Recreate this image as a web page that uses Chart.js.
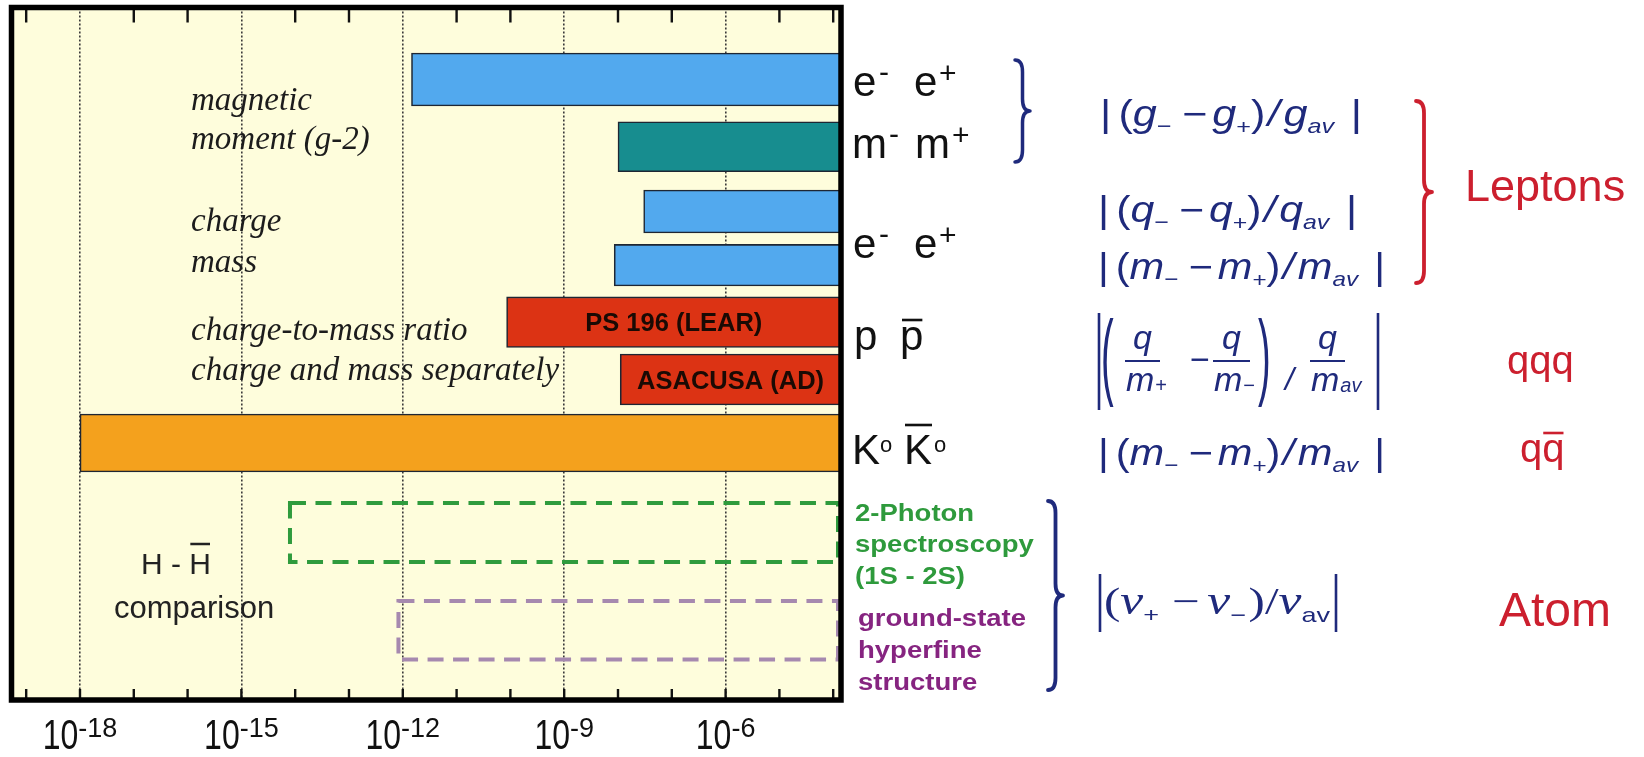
<!DOCTYPE html>
<html>
<head>
<meta charset="utf-8">
<title>CPT tests: relative precision of particle / antiparticle comparisons</title>
<script src="https://cdn.jsdelivr.net/npm/chart.js@4/dist/chart.umd.min.js"></script>
<style>
  html, body { margin: 0; padding: 0; background: #ffffff; }
  canvas { display: block; }
</style>
</head>
<body>
<canvas id="cpt" width="1644" height="757"></canvas>
<script>
// ---- data -------------------------------------------------------------
// one row per measurement, top to bottom
const measurements = [
  'e- e+ magnetic moment (g-2)',
  'mu- mu+ magnetic moment (g-2)',
  'e- e+ charge',
  'e- e+ mass',
  'p pbar charge-to-mass ratio',
  'p pbar charge and mass separately',
  'K0 K0bar mass',
  'H Hbar 2-photon spectroscopy (1S-2S)',
  'H Hbar ground-state hyperfine structure'
];
// best relative precision reached (left end of each bar)
const precision = [1.45e-12, 1.0e-8, 3.0e-8, 8.5e-9, 8.5e-11, 1.1e-8, 1.0e-18, 8.0e-15, 8.3e-13];
// bars are open towards poorer precision and run off the right edge
const openEnd = 1e-3;
// texts printed inside bars
const experiments = ['', '', '', '', 'PS 196 (LEAR)', 'ASACUSA (AD)', '', '', ''];
// decades carrying a labelled, dotted grid line
const labelledExponents = [-18, -15, -12, -9, -6];
// every decade gets a small inner tick
const decadeExponents = [-19, -18, -17, -16, -15, -14, -13, -12, -11, -10, -9, -8, -7, -6, -5, -4];

// ---- layout & style ---------------------------------------------------
const AXIS_MIN = Math.pow(10, -19.273);
const AXIS_MAX = Math.pow(10, -3.855);
// vertical placement of each row (percent of plot height, from the top)
const ROW_CENTER = [10.40, 20.11, 29.46, 37.21, 45.44, 53.72, 62.89, 75.81, 89.92];
const ROW_THICKNESS = [53, 50, 43, 41.5, 50.5, 51, 58, 59, 58.5];
const BLUE = '#52A9EE', TEAL = '#178D8F', RED = '#DC3314', ORANGE = '#F4A11D';
const FILL = [BLUE, TEAL, BLUE, BLUE, RED, RED, ORANGE, null, null];
const DASHED = [null, null, null, null, null, null, null, '#2F9B3D', '#A689AF'];
const PLOT_BG = '#FEFDDC';
const NAVY = '#1F2A7C';
const CRIMSON = '#CC1F2E';
const INK = '#222222';
const SANS = '"Liberation Sans", Arial, sans-serif';
const SERIF = '"Liberation Serif", "Times New Roman", serif';

const datasets = measurements.map((name, i) => ({
  label: name,
  data: [{ x: [precision[i], openEnd], y: ROW_CENTER[i] }],
  barThickness: ROW_THICKNESS[i],
  backgroundColor: FILL[i] || 'rgba(0,0,0,0)',
  borderColor: FILL[i] ? '#1E2633' : 'rgba(0,0,0,0)',
  borderWidth: FILL[i] ? 1.6 : 0,
  borderSkipped: false,
  dashColor: DASHED[i],
  experiment: experiments[i]
}));

// ---- text helpers -----------------------------------------------------
// draw a run of text pieces; returns the canvas x-extent of each piece
function textRun(ctx, x, y, parts, opt) {
  opt = opt || {};
  ctx.save();
  let w = 0;
  for (const p of parts) { ctx.font = p.f; w += (p.gap || 0) + ctx.measureText(p.t).width; }
  let sx = opt.sx || 1;
  const sy = opt.sy || 1;
  if (opt.width) sx = opt.width / w;
  const x0 = opt.align === 'center' ? x - w * sx / 2 : x;
  ctx.translate(x0, y);
  ctx.scale(sx, sy);
  ctx.textBaseline = 'alphabetic';
  let cx = 0;
  const ext = [];
  for (const p of parts) {
    ctx.font = p.f;
    ctx.fillStyle = p.c || opt.color || INK;
    cx += p.gap || 0;
    ctx.fillText(p.t, cx, p.dy || 0);
    const pw = ctx.measureText(p.t).width;
    ext.push([x0 + cx * sx, x0 + (cx + pw) * sx]);
    cx += pw;
  }
  ctx.restore();
  return ext;
}

function hline(ctx, x1, x2, y, color, lw) {
  ctx.save();
  ctx.strokeStyle = color; ctx.lineWidth = lw;
  ctx.beginPath(); ctx.moveTo(x1, y); ctx.lineTo(x2, y); ctx.stroke();
  ctx.restore();
}
function vline(ctx, x, y1, y2, color, lw) {
  ctx.save();
  ctx.strokeStyle = color; ctx.lineWidth = lw;
  ctx.beginPath(); ctx.moveTo(x, y1); ctx.lineTo(x, y2); ctx.stroke();
  ctx.restore();
}

// right-hand curly brace "}" between yTop and yBot, tip pointing right
function brace(ctx, x, yTop, yBot, w, color, lw) {
  const ym = (yTop + yBot) / 2;
  const xm = x + w * 0.5;
  const r = Math.min(12, (yBot - yTop) / 8);
  ctx.save();
  ctx.strokeStyle = color; ctx.lineWidth = lw; ctx.lineCap = 'round'; ctx.lineJoin = 'round';
  ctx.beginPath();
  ctx.moveTo(x, yTop);
  ctx.quadraticCurveTo(xm, yTop, xm, yTop + r);
  ctx.lineTo(xm, ym - r);
  ctx.quadraticCurveTo(xm, ym, x + w, ym);
  ctx.quadraticCurveTo(xm, ym, xm, ym + r);
  ctx.lineTo(xm, yBot - r);
  ctx.quadraticCurveTo(xm, yBot, x, yBot);
  ctx.stroke();
  ctx.restore();
}

// |(a_- - a_+)/a_av| style ratio
function diffRatio(ctx, x, y, letter, width) {
  const up = '36px ' + SANS, it = 'italic 36px ' + SANS, sub = '21px ' + SANS, subIt = 'italic 21px ' + SANS;
  textRun(ctx, x, y, [
    { t: '|', f: up },
    { t: '(', f: up, gap: 6 },
    { t: letter, f: it },
    { t: '\u2212', f: sub, dy: 7 },
    { t: '\u2212', f: up, gap: 9 },
    { t: letter, f: it, gap: 4 },
    { t: '+', f: sub, dy: 8 },
    { t: ')', f: up },
    { t: '/', f: it, gap: 2 },
    { t: letter, f: it, gap: 3 },
    { t: 'av', f: subIt, dy: 7 },
    { t: '|', f: up, gap: 14 }
  ], { width: width, color: NAVY });
}

// ---- plugins ----------------------------------------------------------
const plotFrame = {
  id: 'plotFrame',
  beforeDraw(chart) {
    const { ctx, chartArea: a } = chart;
    ctx.save();
    ctx.fillStyle = '#ffffff';
    ctx.fillRect(0, 0, chart.width, chart.height);
    ctx.fillStyle = PLOT_BG;
    ctx.fillRect(a.left, a.top, a.right - a.left, a.bottom - a.top);
    ctx.restore();
  },
  afterDatasetsDraw(chart) {
    const { ctx, chartArea: a } = chart;
    const xs = chart.scales.x;

    // dashed outlines for the hydrogen / antihydrogen projections
    chart.data.datasets.forEach((ds, i) => {
      if (!ds.dashColor) return;
      const bar = chart.getDatasetMeta(i).data[0];
      const p = bar.getProps(['x', 'y', 'base', 'height'], true);
      const left = Math.max(a.left, Math.min(p.base, p.x));
      const right = a.right - 3;
      ctx.save();
      ctx.strokeStyle = ds.dashColor;
      ctx.lineWidth = 4;
      ctx.setLineDash([16, 9.5]);
      ctx.strokeRect(left, p.y - p.height / 2, right - left, p.height);
      ctx.restore();
    });

    // experiment names inside the antiproton bars
    chart.data.datasets.forEach((ds, i) => {
      if (!ds.experiment) return;
      const bar = chart.getDatasetMeta(i).data[0];
      const p = bar.getProps(['x', 'y', 'base'], true);
      const cx = (Math.max(p.base, a.left) + a.right) / 2;
      ctx.save();
      ctx.font = 'bold 25.5px ' + SANS;
      ctx.fillStyle = '#1A0A04';
      ctx.textAlign = 'center';
      ctx.textBaseline = 'middle';
      ctx.fillText(ds.experiment, cx, p.y + 2);
      ctx.restore();
    });

    // short inner ticks at every decade, top and bottom
    ctx.save();
    ctx.strokeStyle = '#111';
    ctx.lineWidth = 2.4;
    for (const e of decadeExponents) {
      const px = xs.getPixelForValue(Math.pow(10, e));
      if (px <= a.left + 2 || px >= a.right - 2) continue;
      ctx.beginPath();
      ctx.moveTo(px, a.bottom); ctx.lineTo(px, a.bottom - 11);
      if (e % 3 !== 0) { ctx.moveTo(px, a.top); ctx.lineTo(px, a.top + 15); }
      ctx.stroke();
    }
    ctx.restore();

    // descriptions of the measured quantities
    const ital = 'italic 33px ' + SERIF;
    [['magnetic', 110], ['moment (g-2)', 149], ['charge', 231], ['mass', 272],
     ['charge-to-mass ratio', 340], ['charge and mass separately', 380]].forEach(([t, y]) => {
      textRun(ctx, 191, y, [{ t: t, f: ital }], { color: '#1c1c1c' });
    });
    const hh = textRun(ctx, 141, 574, [
      { t: 'H - ', f: '30px ' + SANS }, { t: 'H', f: '30px ' + SANS }
    ], { color: INK });
    hline(ctx, hh[1][0] + 1, hh[1][1] - 1, 544, INK, 2.5);
    textRun(ctx, 114, 618, [{ t: 'comparison', f: '31px ' + SANS }], { color: INK });

    // frame
    ctx.save();
    ctx.strokeStyle = '#000';
    ctx.lineWidth = 5.5;
    ctx.strokeRect(a.left, a.top, a.right - a.left, a.bottom - a.top);
    ctx.restore();
  },
  afterDraw(chart) {
    const { ctx } = chart;
    const xs = chart.scales.x;

    // axis labels 10^n: tall "10" with a raised exponent
    for (const e of labelledExponents) {
      const px = xs.getPixelForValue(Math.pow(10, e));
      ctx.save();
      ctx.font = '32px ' + SANS;
      const wBase = ctx.measureText('10').width;
      ctx.font = '27px ' + SANS;
      const wExp = ctx.measureText('-' + Math.abs(e)).width;
      ctx.restore();
      const x0 = px - (wBase + wExp) / 2;
      textRun(ctx, x0, 749, [{ t: '10', f: '32px ' + SANS }], { sy: 1.3, color: '#111' });
      textRun(ctx, x0 + wBase, 737, [{ t: '-' + Math.abs(e), f: '27px ' + SANS }], { color: '#111' });
    }

    // particle / antiparticle pairs
    const big = '42px ' + SANS, sup = '30px ' + SANS;
    const put = (x, y, t, f) => textRun(ctx, x, y, [{ t: t, f: f }], { color: '#111' });
    put(853, 96, 'e', big); put(879, 82, '-', sup); put(914, 96, 'e', big); put(939, 83, '+', sup);
    put(852, 158, 'm', big); put(889, 144, '-', sup); put(915, 158, 'm', big); put(952, 145, '+', sup);
    put(853, 258, 'e', big); put(879, 244, '-', sup); put(914, 258, 'e', big); put(939, 245, '+', sup);
    put(854, 350, 'p', big);
    const pb = textRun(ctx, 900, 350, [{ t: 'p', f: big }], { color: '#111' });
    hline(ctx, pb[0][0] + 2, pb[0][1] - 1, 320, '#111', 2.6);
    put(852, 464, 'K', big); put(880, 452, 'o', '22px ' + SANS);
    const kb = textRun(ctx, 904, 464, [{ t: 'K', f: big }], { color: '#111' });
    put(934, 452, 'o', '22px ' + SANS);
    hline(ctx, kb[0][0] + 1, kb[0][1], 425, '#111', 2.6);

    // hydrogen spectroscopy labels
    const bold = 'bold 27.5px ' + SANS;
    [['2-Photon', 521], ['spectroscopy', 552], ['(1S - 2S)', 584]].forEach(([t, y]) =>
      textRun(ctx, 855, y, [{ t: t, f: bold }], { color: '#2E9A3C', sy: 0.9 }));
    [['ground-state', 626], ['hyperfine', 658], ['structure', 690]].forEach(([t, y]) =>
      textRun(ctx, 858, y, [{ t: t, f: bold }], { color: '#862480', sy: 0.9 }));

    // braces
    brace(ctx, 1015, 60, 162, 15, NAVY, 3.5);
    brace(ctx, 1416, 101, 283, 16, CRIMSON, 3.8);
    brace(ctx, 1048, 501, 690, 15, NAVY, 3.8);

    // compared quantities
    diffRatio(ctx, 1100, 126, 'g', 262);
    diffRatio(ctx, 1098, 222, 'q', 259);
    diffRatio(ctx, 1098, 279, 'm', 287);
    diffRatio(ctx, 1098, 465, 'm', 287);

    // |(q/m+ - q/m-)/ q/m_av|
    vline(ctx, 1099, 313, 410, NAVY, 2.6);
    vline(ctx, 1378, 313, 410, NAVY, 2.6);
    const par = (t, x) => {
      ctx.save();
      ctx.translate(x, 361);
      ctx.scale(1, 2.5);
      ctx.font = '38px ' + SANS;
      ctx.fillStyle = NAVY;
      ctx.textBaseline = 'middle';
      ctx.fillText(t, 0, 0);
      ctx.restore();
    };
    par('(', 1101);
    par(')', 1258);
    const fr = (xl, xr, den, denSub) => {
      const cx = (xl + xr) / 2;
      textRun(ctx, cx, 349, [{ t: 'q', f: 'italic 34px ' + SANS }], { align: 'center', color: NAVY });
      hline(ctx, xl, xr, 361, NAVY, 2);
      textRun(ctx, xl + 1, 391, [{ t: den, f: 'italic 34px ' + SANS }, { t: denSub, f: (denSub === 'av' ? 'italic ' : '') + '20px ' + SANS, dy: 1, gap: 1 }], { color: NAVY });
    };
    fr(1125, 1160, 'm', '+');
    fr(1213, 1250, 'm', '\u2212');
    fr(1310, 1345, 'm', 'av');
    textRun(ctx, 1190, 371, [{ t: '\u2212', f: '34px ' + SANS }], { color: NAVY });
    textRun(ctx, 1285, 390, [{ t: '/', f: 'italic 32px ' + SANS }], { color: NAVY });

    // |(nu+ - nu-)/nu_av|
    vline(ctx, 1100, 574, 632, NAVY, 2.6);
    vline(ctx, 1336, 574, 632, NAVY, 2.6);
    const nu = 'italic 40px ' + SERIF, sr = '38px ' + SERIF, ss = '21px ' + SANS;
    textRun(ctx, 1104, 614, [
      { t: '(', f: sr },
      { t: '\u03BD', f: nu },
      { t: '+', f: ss, dy: 8 },
      { t: '\u2212', f: sr, gap: 10 },
      { t: '\u03BD', f: nu, gap: 6 },
      { t: '\u2212', f: ss, dy: 8 },
      { t: ')', f: sr, gap: 2 },
      { t: '/', f: sr },
      { t: '\u03BD', f: nu },
      { t: 'av', f: ss, dy: 8 }
    ], { width: 226, color: NAVY });

    // particle families
    textRun(ctx, 1465, 201, [{ t: 'Leptons', f: '45px ' + SANS }], { color: CRIMSON });
    textRun(ctx, 1507, 374, [{ t: 'qqq', f: '40px ' + SANS }], { color: CRIMSON });
    const qq = textRun(ctx, 1520, 462, [{ t: 'q', f: '40px ' + SANS }, { t: 'q', f: '40px ' + SANS }], { color: CRIMSON });
    hline(ctx, qq[1][0] + 1, qq[1][1] - 1, 433, CRIMSON, 2.6);
    textRun(ctx, 1499, 626, [{ t: 'Atom', f: '48px ' + SANS }], { color: CRIMSON });
  }
};

// ---- chart ------------------------------------------------------------
new Chart(document.getElementById('cpt'), {
  type: 'bar',
  data: { datasets: datasets },
  options: {
    indexAxis: 'y',
    responsive: false,
    animation: false,
    events: [],
    layout: { padding: { left: 11.5, top: 7.5, right: 1644 - 841, bottom: 757 - 700 } },
    datasets: { bar: { grouped: false } },
    plugins: { legend: { display: false }, tooltip: { enabled: false } },
    scales: {
      x: {
        type: 'logarithmic',
        min: AXIS_MIN,
        max: AXIS_MAX,
        afterBuildTicks(scale) {
          scale.ticks = labelledExponents.map(e => ({ value: Math.pow(10, e) }));
        },
        afterFit(scale) { scale.height = 0; },
        ticks: { display: false },
        grid: { drawTicks: false, color: '#3a3a3a', lineWidth: 1.6 },
        border: { display: false, dash: [2, 2] }
      },
      y: {
        type: 'linear',
        reverse: true,
        offset: false,
        min: 0,
        max: 100,
        afterFit(scale) { scale.width = 0; },
        ticks: { display: false },
        grid: { display: false },
        border: { display: false }
      }
    }
  },
  plugins: [plotFrame]
});
</script>
</body>
</html>
